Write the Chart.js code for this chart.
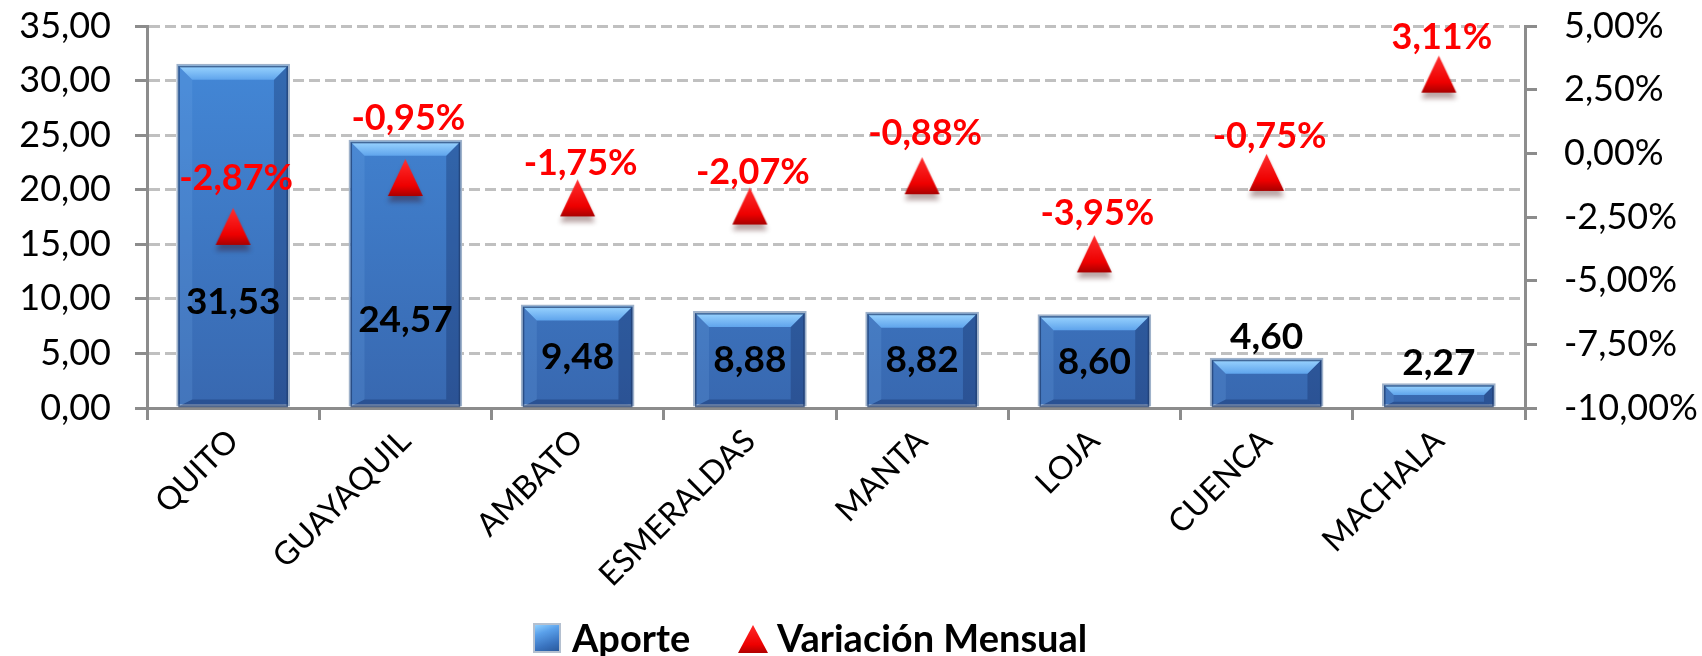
<!DOCTYPE html>
<html><head><meta charset="utf-8">
<script src="https://cdn.jsdelivr.net/npm/chart.js@4.4.1/dist/chart.umd.min.js"></script>
<style>
html,body{margin:0;padding:0;background:#fff;}
#wrap{position:relative;width:1702px;height:656px;overflow:hidden;}
#c{position:absolute;left:0;top:0;}
.lg{position:absolute;font-family:Lato,"Open Sans",sans-serif;font-weight:bold;font-size:38px;line-height:38px;color:#000;white-space:nowrap;}
.sq{position:absolute;width:24px;height:26px;border:2px solid #b4c0d0;background:linear-gradient(160deg,#8fd0ff 0%,#5aa0ea 30%,#3a74c0 70%,#2a5a9c 100%);}
.tri{position:absolute;width:30px;height:28px;clip-path:polygon(50% 0,100% 100%,0 100%);background:linear-gradient(180deg,#ff2a2a 0%,#ee0000 70%,#b00000 100%);}
</style>
</head><body>
<div id="wrap">
<canvas id="c" width="1702" height="656"></canvas>
<div class="sq" style="left:533px;top:623px;"></div>
<div class="lg" style="left:572px;top:618px;" id="lg0"></div>
<div class="tri" style="left:738px;top:625px;"></div>
<div class="lg" style="left:777px;top:618px;" id="lg1"></div>
</div>
<script>
// ---- data ----
const categories = ['QUITO','GUAYAQUIL','AMBATO','ESMERALDAS','MANTA','LOJA','CUENCA','MACHALA'];
const aporte = [31.53, 24.57, 9.48, 8.88, 8.82, 8.60, 4.60, 2.27];
const variacion = [-2.87, -0.95, -1.75, -2.07, -0.88, -3.95, -0.75, 3.11];
const seriesNames = ['Aporte', 'Variación Mensual'];
const leftAxis = {min: 0, max: 35, step: 5};
const rightAxis = {min: -10, max: 5, step: 2.5};

document.getElementById('lg0').textContent = seriesNames[0];
document.getElementById('lg1').textContent = seriesNames[1];

const FONT = 'Lato, "Open Sans", sans-serif';
const fmt = v => v.toFixed(2).replace('.', ',');

// triangle marker image
function makeTriangle(w, h) {
  const pad = 12;
  const c = document.createElement('canvas');
  c.width = w + 12; c.height = h + pad * 2;
  const g = c.getContext('2d');
  const x0 = 6, y0 = pad;
  g.shadowColor = 'rgba(60,0,0,0.35)';
  g.shadowBlur = 5; g.shadowOffsetY = 6;
  const gr = g.createLinearGradient(0, y0, 0, y0 + h);
  gr.addColorStop(0, '#ff3030');
  gr.addColorStop(0.72, '#ee0000');
  gr.addColorStop(1, '#a80000');
  g.fillStyle = gr;
  g.beginPath();
  g.moveTo(x0 + w / 2, y0);
  g.lineTo(x0 + w, y0 + h);
  g.lineTo(x0, y0 + h);
  g.closePath();
  g.fill();
  return c;
}
const triImg = makeTriangle(35, 37);

const bevelPlugin = {
  id: 'bevel',
  afterDatasetDraw(chart, args) {
    if (args.meta.type !== 'bar') return;
    const ctx = chart.ctx;
    args.meta.data.forEach(bar => {
      const p = bar.getProps(['x', 'y', 'base', 'width'], true);
      const bw = 2;
      const l = p.x - p.width / 2 + bw, r = p.x + p.width / 2 - bw, t = p.y + bw, b = p.base;
      const bv = Math.min(14, (b - t) / 2.2);
      ctx.save();
      ctx.fillStyle = 'rgba(120,180,240,0.18)';
      ctx.beginPath(); ctx.moveTo(l, t); ctx.lineTo(l + bv, t + bv); ctx.lineTo(l + bv, b - bv * 0.5); ctx.lineTo(l, b); ctx.closePath(); ctx.fill();
      ctx.fillStyle = 'rgba(10,30,80,0.28)';
      ctx.beginPath(); ctx.moveTo(r, t); ctx.lineTo(r - bv, t + bv); ctx.lineTo(r - bv, b - bv * 0.5); ctx.lineTo(r, b); ctx.closePath(); ctx.fill();
      ctx.fillStyle = 'rgba(10,30,80,0.30)';
      ctx.beginPath(); ctx.moveTo(l, b); ctx.lineTo(l + bv, b - bv * 0.5); ctx.lineTo(r - bv, b - bv * 0.5); ctx.lineTo(r, b); ctx.closePath(); ctx.fill();
      const g = ctx.createLinearGradient(0, t, 0, t + bv);
      g.addColorStop(0, '#9ad4ff'); g.addColorStop(1, '#5fa4ec');
      ctx.fillStyle = g;
      ctx.beginPath(); ctx.moveTo(l, t); ctx.lineTo(r, t); ctx.lineTo(r - bv, t + bv); ctx.lineTo(l + bv, t + bv); ctx.closePath(); ctx.fill();
      ctx.strokeStyle = 'rgba(30,60,110,0.7)'; ctx.lineWidth = 1.5;
      ctx.strokeRect(l + 0.75, t + 0.75, r - l - 1.5, b - t - 0.75);
      ctx.restore();
    });
  }
};

const labelPlugin = {
  id: 'valueLabels',
  afterDatasetsDraw(chart, args, opts) {
    const ctx = chart.ctx;
    const ys = chart.scales.y;
    const mBar = chart.getDatasetMeta(0), mPt = chart.getDatasetMeta(1);
    ctx.save();
    ctx.textAlign = 'center';
    ctx.textBaseline = 'alphabetic';
    ctx.font = 'bold 37px ' + FONT;
    ctx.fillStyle = '#000';
    mBar.data.forEach((bar, i) => {
      const v = aporte[i];
      let yc;
      if (opts.barLabelAt[i] != null) yc = ys.getPixelForValue(opts.barLabelAt[i]);
      else if (v > 6) yc = (bar.y + bar.base) / 2;
      else yc = bar.y - 22;
      ctx.fillText(fmt(v), bar.x, yc + 37 * 0.36);
    });
    ctx.font = 'bold 36px ' + FONT;
    ctx.fillStyle = '#ff0000';
    mPt.data.forEach((pt, i) => {
      const yc = pt.y - opts.pctOffset[i];
      ctx.fillText(fmt(variacion[i]) + '%', pt.x + 3, yc + 36 * 0.36);
    });
    ctx.restore();
  }
};

const ctx = document.getElementById('c').getContext('2d');
new Chart(ctx, {
  data: {
    labels: categories,
    datasets: [
      {
        type: 'bar',
        label: seriesNames[0],
        data: aporte,
        yAxisID: 'y',
        backgroundColor: (c) => {
          const a = c.chart.chartArea;
          if (!a) return '#3c78c6';
          const g = c.chart.ctx.createLinearGradient(0, a.top, 0, a.bottom);
          g.addColorStop(0, '#448ada');
          g.addColorStop(1, '#3868b0');
          return g;
        },
        borderColor: '#9fb2ca',
        borderWidth: 2,
        borderSkipped: false,
        categoryPercentage: 1,
        barPercentage: 0.66,
        order: 1
      },
      {
        type: 'line',
        label: seriesNames[1],
        data: variacion,
        yAxisID: 'y2',
        showLine: false,
        pointStyle: triImg,
        pointRadius: 20,
        pointHoverRadius: 20,
        clip: false,
        order: 0
      }
    ]
  },
  options: {
    responsive: false,
    animation: false,
    events: [],
    layout: {autoPadding: false, padding: {top: 26, left: 0, right: 0, bottom: 0}},
    plugins: {
      legend: {display: false},
      tooltip: {enabled: false},
      valueLabels: {
        barLabelAt: [9.8, 8.2, null, null, null, null, null, null],
        pctOffset: [49, 60, 36, 35, 44, 42, 37, 38]
      }
    },
    scales: {
      x: {
        offset: true,
        grid: {offset: true, drawOnChartArea: false, drawTicks: true, tickLength: 12, color: '#8c8c8c', lineWidth: 3},
        border: {color: '#8c8c8c', width: 3},
        ticks: {
          color: '#000', font: {family: FONT, size: 32}, minRotation: 45, maxRotation: 45,
          autoSkip: false, padding: 2
        },
        afterFit: s => { s.height = 656 - 408; }
      },
      y: {
        position: 'left',
        min: leftAxis.min, max: leftAxis.max,
        grid: {color: '#c0c0c0', lineWidth: 3, tickLength: 12, tickColor: '#8c8c8c', tickWidth: 3, tickBorderDash: [], drawOnChartArea: true},
        border: {color: '#8c8c8c', width: 3, dash: [11, 5]},
        ticks: {stepSize: leftAxis.step, color: '#000', font: {family: FONT, size: 36}, padding: 24, callback: v => fmt(v)},
        afterFit: s => { s.width = 147; s.paddingTop = 0; s.paddingBottom = 0; }
      },
      y2: {
        position: 'right',
        min: rightAxis.min, max: rightAxis.max,
        grid: {drawOnChartArea: false, tickLength: 12, color: '#8c8c8c', lineWidth: 3},
        border: {color: '#8c8c8c', width: 3},
        ticks: {stepSize: rightAxis.step, color: '#000', font: {family: FONT, size: 36}, padding: 27, callback: v => fmt(v) + '%'},
        afterFit: s => { s.width = 1702 - 1525; s.paddingTop = 0; s.paddingBottom = 0; }
      }
    }
  },
  plugins: [bevelPlugin, labelPlugin]
});
</script>
</body></html>
